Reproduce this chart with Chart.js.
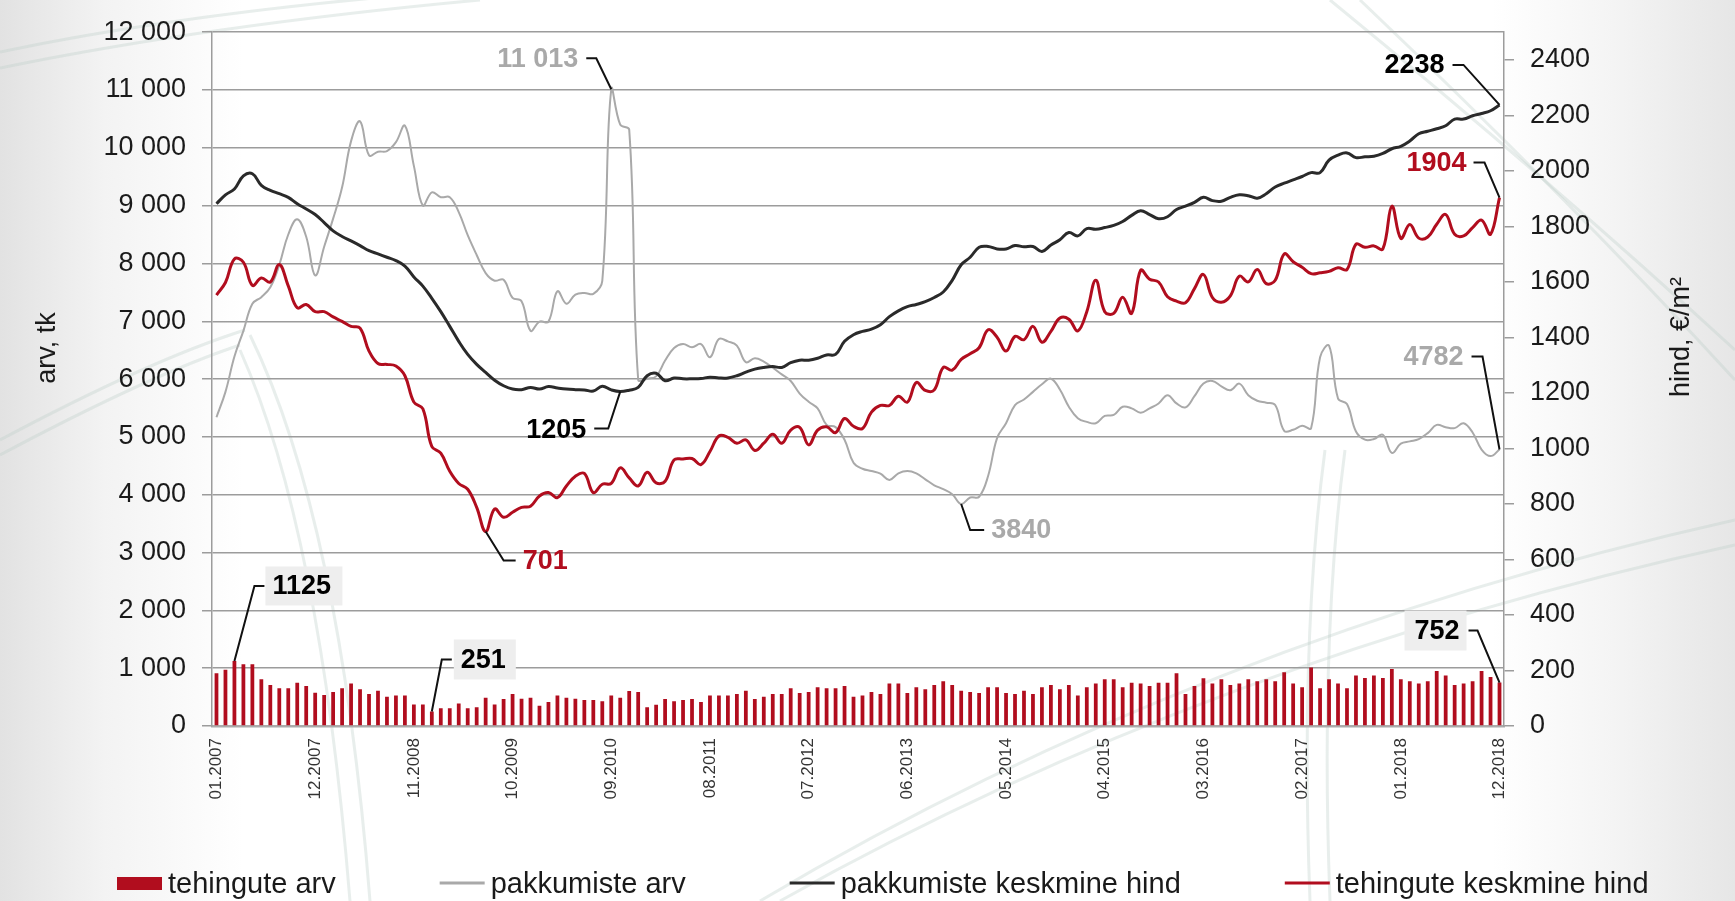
<!DOCTYPE html>
<html lang="et">
<head>
<meta charset="utf-8">
<title>Tehingud ja pakkumised</title>
<script src="https://cdn.jsdelivr.net/npm/chart.js@4.4.1/dist/chart.umd.min.js"></script>
<style>
  html, body { margin: 0; padding: 0; }
  body {
    width: 1735px; height: 901px; overflow: hidden;
    background: linear-gradient(to right, #e2e2e2 0%, #f3f3f3 6%, #ffffff 14%, #ffffff 86%, #f4f4f4 93%, #e6e6e6 100%);
  }
  #wrap { position: relative; width: 1735px; height: 901px; }
</style>
</head>
<body>
<div id="wrap"><canvas id="chart"></canvas></div>
<script>
// kuud 01.2007 ... 12.2018
const months = [];
for (let y = 2007; y <= 2018; y++) {
    for (let m = 1; m <= 12; m++) months.push(String(m).padStart(2, '0') + '.' + y);
}

// x-telje sildid, mis on näha
const shownMonths = ['01.2007', '12.2007', '11.2008', '10.2009', '09.2010', '08.2011', '07.2012',
    '06.2013', '05.2014', '04.2015', '03.2016', '02.2017', '01.2018', '12.2018'];

// parema telje jaotised
const rightTicks = [0, 200, 400, 600, 800, 1000, 1200, 1400, 1600, 1800, 2000, 2200, 2400];

// tehingute arv (tulbad, vasak telg)
const tehinguteArv = [
    913, 971, 1125, 1070, 1070, 808, 709, 651, 651, 750, 692, 576,
    535, 587, 651, 733, 634, 552, 610, 506, 529, 529, 372, 372,
    251, 308, 308, 390, 308, 326, 488, 372, 465, 552, 471, 488,
    349, 413, 529, 488, 471, 448, 448, 430, 529, 488, 605, 587,
    326, 366, 465, 430, 448, 465, 413, 529, 529, 529, 552, 610,
    465, 506, 552, 552, 651, 570, 587, 669, 651, 651, 692, 506,
    529, 587, 552, 733, 733, 570, 669, 634, 709, 773, 709, 610,
    587, 570, 669, 669, 570, 552, 610, 552, 669, 709, 634, 709,
    529, 669, 733, 808, 808, 669, 750, 733, 692, 750, 750, 913,
    552, 692, 826, 733, 808, 709, 733, 808, 773, 808, 773, 930,
    733, 669, 1012, 651, 808, 733, 651, 872, 831, 872, 831, 988,
    808, 773, 733, 773, 953, 872, 709, 733, 773, 953, 849, 752
];

// pakkumiste arv (hall joon, vasak telg)
const pakkumisteArv = [
    5340, 5779, 6390, 6835, 7303, 7417, 7588, 7976, 8501, 8763, 8461, 7793,
    8290, 8775, 9317, 10116, 10458, 9870, 9933, 9944, 10098, 10384, 9688, 9003,
    9231, 9146, 9146, 8889, 8489, 8147, 7833, 7702, 7719, 7405, 7348, 6835,
    6994, 6994, 7519, 7303, 7462, 7491, 7474, 7700, 11013, 10401, 10315, 5990,
    6007, 6047, 6321, 6538, 6606, 6549, 6606, 6378, 6692, 6652, 6578, 6293,
    6361, 6304, 6196, 6081, 5967, 5750, 5608, 5494, 5208, 5169, 4952, 4552,
    4450, 4410, 4364, 4256, 4370, 4410, 4370, 4267, 4164, 4096, 4010, 3840,
    3953, 3965, 4324, 4980, 5237, 5551, 5648, 5779, 5910, 6007, 5819, 5522,
    5323, 5260, 5237, 5363, 5380, 5522, 5494, 5420, 5494, 5579, 5722, 5579,
    5511, 5705, 5922, 5967, 5876, 5808, 5922, 5722, 5625, 5591, 5551, 5106,
    5123, 5192, 5152, 6378, 6578, 5665, 5568, 5094, 4952, 4963, 5037, 4723,
    4883, 4923, 4963, 5066, 5208, 5169, 5152, 5237, 5077, 4782, 4668, 4782
];

// pakkumiste keskmine hind (must joon, parem telg)
const pakkumisteHind = [
    1882, 1914, 1935, 1982, 1990, 1948, 1930, 1918, 1905, 1882, 1863, 1843,
    1814, 1784, 1764, 1748, 1731, 1713, 1701, 1689, 1677, 1657, 1618, 1585,
    1541, 1493, 1440, 1386, 1339, 1303, 1274, 1246, 1226, 1214, 1212, 1220,
    1214, 1223, 1218, 1214, 1212, 1211, 1207, 1224, 1211, 1205, 1210, 1220,
    1262, 1271, 1244, 1254, 1251, 1251, 1252, 1257, 1254, 1254, 1262, 1275,
    1286, 1292, 1295, 1292, 1309, 1318, 1318, 1325, 1337, 1339, 1386, 1410,
    1422, 1430, 1446, 1475, 1496, 1511, 1519, 1529, 1544, 1564, 1606, 1662,
    1689, 1725, 1728, 1719, 1719, 1731, 1727, 1728, 1710, 1733, 1752, 1778,
    1766, 1792, 1790, 1796, 1804, 1818, 1840, 1857, 1843, 1828, 1835, 1861,
    1873, 1887, 1905, 1893, 1891, 1905, 1914, 1911, 1902, 1918, 1942, 1956,
    1968, 1980, 1994, 1994, 2039, 2057, 2065, 2048, 2051, 2053, 2063, 2080,
    2089, 2108, 2134, 2143, 2152, 2163, 2187, 2187, 2199, 2207, 2217, 2238
];

// tehingute keskmine hind (punane joon, parem telg)
const tehinguteHind = [
    1553, 1598, 1683, 1671, 1588, 1614, 1600, 1663, 1586, 1507, 1519, 1493,
    1493, 1474, 1458, 1440, 1434, 1351, 1306, 1303, 1297, 1262, 1167, 1143,
    1007, 983, 918, 874, 853, 788, 701, 782, 752, 770, 788, 792,
    829, 841, 823, 865, 900, 910, 841, 871, 874, 930, 894, 865,
    914, 876, 882, 959, 962, 964, 942, 989, 1045, 1040, 1019, 1031,
    993, 1019, 1051, 1019, 1066, 1076, 1013, 1066, 1078, 1057, 1108, 1080,
    1072, 1131, 1155, 1155, 1188, 1167, 1238, 1209, 1211, 1292, 1282, 1321,
    1341, 1363, 1428, 1401, 1351, 1404, 1392, 1440, 1383, 1422, 1470, 1466,
    1424, 1493, 1606, 1493, 1487, 1545, 1487, 1642, 1610, 1600, 1547, 1531,
    1525, 1576, 1627, 1544, 1527, 1550, 1621, 1600, 1645, 1594, 1606, 1701,
    1673, 1653, 1630, 1633, 1638, 1651, 1645, 1736, 1725, 1730, 1719, 1873,
    1757, 1807, 1758, 1762, 1808, 1843, 1772, 1766, 1796, 1823, 1772, 1904
];

const RED = '#b10d1e';
const GRAY = '#a9a9a9';
const BLACK = '#2a2a2a';
const FONT = '"Liberation Sans", Arial, sans-serif';

Chart.defaults.font.family = FONT;

// viidad: andmeseeria, kuu indeks, tekst; joone ja teksti nihked ankurpunktist
const callouts = [
    { ds: 1, i: 44, text: '11 013', color: GRAY, path: [[0, 0], [-15, -31], [-25, -31]], tx: -33, ty: -31, align: 'right' },
    { ds: 2, i: 45, text: '1205', color: '#000', path: [[0, 0], [-12, 37], [-26, 37]], tx: -34, ty: 38, align: 'right' },
    { ds: 3, i: 30, text: '701', color: RED, path: [[0, 0], [18, 29], [30, 29]], tx: 37, ty: 29, align: 'left' },
    { ds: 1, i: 83, text: '3840', color: GRAY, path: [[0, 0], [9, 26], [23, 26]], tx: 30, ty: 26, align: 'left' },
    { ds: 2, i: 143, text: '2238', color: '#000', path: [[0, 0], [-36, -40], [-47, -40]], tx: -55, ty: -40, align: 'right' },
    { ds: 3, i: 143, text: '1904', color: RED, path: [[0, 0], [-15, -35], [-26, -35]], tx: -33, ty: -35, align: 'right' },
    { ds: 1, i: 143, text: '4782', color: GRAY, path: [[0, 0], [-17, -93], [-28, -93]], tx: -36, ty: -93, align: 'right' },
    { ds: 0, i: 2, text: '1125', color: '#000', path: [[0, 0], [20, -75], [30, -75]], tx: 38, ty: -75, align: 'left', box: [31, -94.5, 77, 39] },
    { ds: 0, i: 24, text: '251', color: '#000', path: [[0, 0], [10, -52], [20, -52]], tx: 29, ty: -52, align: 'left', box: [22, -72, 62, 40] },
    { ds: 0, i: 143, text: '752', color: '#000', path: [[0, 0], [-22, -52], [-31, -52]], tx: -40, ty: -52, align: 'right', box: [-95, -72, 62, 40] }
];

// taustal olevad heledad kaared (kaunistus)
const decoPlugin = {
    id: 'deco',
    beforeDraw(chart) {
        const ctx = chart.ctx;
        ctx.save();
        ctx.strokeStyle = 'rgba(190, 205, 200, 0.35)';
        ctx.lineWidth = 3;
        const curves = [
            [[0, 52], [200, 10], [470, -10]],
            [[0, 68], [210, 25], [480, 0]],
            [[0, 440], [150, 360], [245, 330]],
            [[0, 455], [150, 375], [240, 345]],
            [[250, 335], [340, 520], [370, 901]],
            [[240, 350], [320, 530], [350, 901]],
            [[1330, 0], [1550, 180], [1735, 350]],
            [[1360, 0], [1570, 200], [1735, 380]],
            [[760, 901], [1200, 640], [1735, 520]],
            [[780, 901], [1210, 660], [1735, 545]],
            [[1330, 901], [1320, 640], [1345, 450]],
            [[1310, 901], [1300, 640], [1325, 450]]
        ];
        curves.forEach(([a, b, c]) => {
            ctx.beginPath();
            ctx.moveTo(a[0], a[1]);
            ctx.quadraticCurveTo(b[0], b[1], c[0], c[1]);
            ctx.stroke();
        });
        ctx.restore();
    }
};

const calloutPlugin = {
    id: 'callouts',
    afterDatasetsDraw(chart) {
        const ctx = chart.ctx;
        callouts.forEach(c => {
            const el = chart.getDatasetMeta(c.ds).data[c.i];
            const x = el.x, y = el.y;
            ctx.save();
            if (c.box) {
                ctx.fillStyle = '#eeeeee';
                ctx.fillRect(x + c.box[0], y + c.box[1], c.box[2], c.box[3]);
            }
            ctx.strokeStyle = '#111';
            ctx.lineWidth = 2;
            ctx.beginPath();
            c.path.forEach((p, k) => k ? ctx.lineTo(x + p[0], y + p[1]) : ctx.moveTo(x + p[0], y + p[1]));
            ctx.stroke();
            ctx.font = 'bold 27px ' + FONT;
            ctx.fillStyle = c.color;
            ctx.textAlign = c.align;
            ctx.textBaseline = 'middle';
            ctx.fillText(c.text, x + c.tx, y + c.ty + 1);
            ctx.restore();
        });
    }
};

// telgede pealkirjad ja legend
const extrasPlugin = {
    id: 'extras',
    afterDraw(chart) {
        const ctx = chart.ctx;
        ctx.save();
        ctx.fillStyle = '#1a1a1a';
        ctx.font = '27px ' + FONT;
        ctx.textAlign = 'center';
        ctx.textBaseline = 'middle';
        [['arv, tk', 48, 348], ['hind, €/m²', 1682, 337]].forEach(([t, x, y]) => {
            ctx.save();
            ctx.translate(x, y);
            ctx.rotate(-Math.PI / 2);
            ctx.fillText(t, 0, 0);
            ctx.restore();
        });

        ctx.font = '29px ' + FONT;
        ctx.textAlign = 'left';
        ctx.textBaseline = 'alphabetic';
        let x = 117;
        const yMid = 883;
        chart.data.datasets.forEach(ds => {
            if (ds.type === 'line') {
                ctx.strokeStyle = ds.borderColor;
                ctx.lineWidth = 3;
                ctx.beginPath();
                ctx.moveTo(x, yMid);
                ctx.lineTo(x + 45, yMid);
                ctx.stroke();
            } else {
                ctx.fillStyle = ds.backgroundColor;
                ctx.fillRect(x, yMid - 6, 45, 13);
            }
            x += 51;
            ctx.fillStyle = '#1a1a1a';
            ctx.fillText(ds.label, x, yMid + 10);
            x += ctx.measureText(ds.label).width + 104;
        });
        ctx.restore();
    }
};

const fmt = v => String(v).replace(/\B(?=(\d{3})+(?!\d))/g, ' ');

new Chart(document.getElementById('chart'), {
    type: 'bar',
    data: {
        labels: months,
        datasets: [
            {
                type: 'bar', label: 'tehingute arv', data: tehinguteArv, yAxisID: 'y',
                backgroundColor: RED, barPercentage: 0.42, categoryPercentage: 1, order: 4
            },
            {
                type: 'line', label: 'pakkumiste arv', data: pakkumisteArv, yAxisID: 'y',
                borderColor: GRAY, borderWidth: 2, pointRadius: 0, tension: 0.4, order: 3
            },
            {
                type: 'line', label: 'pakkumiste keskmine hind', data: pakkumisteHind, yAxisID: 'y2',
                borderColor: BLACK, borderWidth: 3, pointRadius: 0, tension: 0.4, order: 2
            },
            {
                type: 'line', label: 'tehingute keskmine hind', data: tehinguteHind, yAxisID: 'y2',
                borderColor: RED, borderWidth: 3, pointRadius: 0, tension: 0.4, order: 1
            }
        ]
    },
    options: {
        responsive: true,
        maintainAspectRatio: false,
        animation: false,
        layout: { padding: { top: 25, left: 0, right: 0, bottom: 0 } },
        plugins: { legend: { display: false }, tooltip: { enabled: false } },
        scales: {
            x: {
                grid: { display: false },
                border: { display: true, color: '#ababab', width: 2.5 },
                ticks: {
                    autoSkip: false, minRotation: 90, maxRotation: 90, padding: 4,
                    color: '#333', font: { size: 17 },
                    callback: (v, i) => shownMonths.includes(months[i]) ? months[i] : ''
                },
                afterFit: s => { s.height = 175; }
            },
            y: {
                position: 'left', min: 0, max: 12000,
                ticks: { stepSize: 1000, padding: 16, color: '#1a1a1a', font: { size: 27 }, callback: v => fmt(v) },
                grid: { color: '#9c9c9c', lineWidth: 1.5, tickLength: 10 },
                border: { color: '#9c9c9c', width: 1.5 },
                afterFit: s => { s.width = 212; }
            },
            y2: {
                position: 'right', min: 0, max: 2500,
                afterBuildTicks: s => { s.ticks = rightTicks.map(v => ({ value: v })); },
                ticks: { padding: 16, color: '#1a1a1a', font: { size: 27 }, callback: v => String(v) },
                grid: { drawOnChartArea: false, color: '#9c9c9c', lineWidth: 1.5, tickLength: 10 },
                border: { color: '#9c9c9c', width: 1.5 },
                afterFit: s => { s.width = 231; }
            }
        }
    },
    plugins: [decoPlugin, calloutPlugin, extrasPlugin]
});
</script>
</body>
</html>
